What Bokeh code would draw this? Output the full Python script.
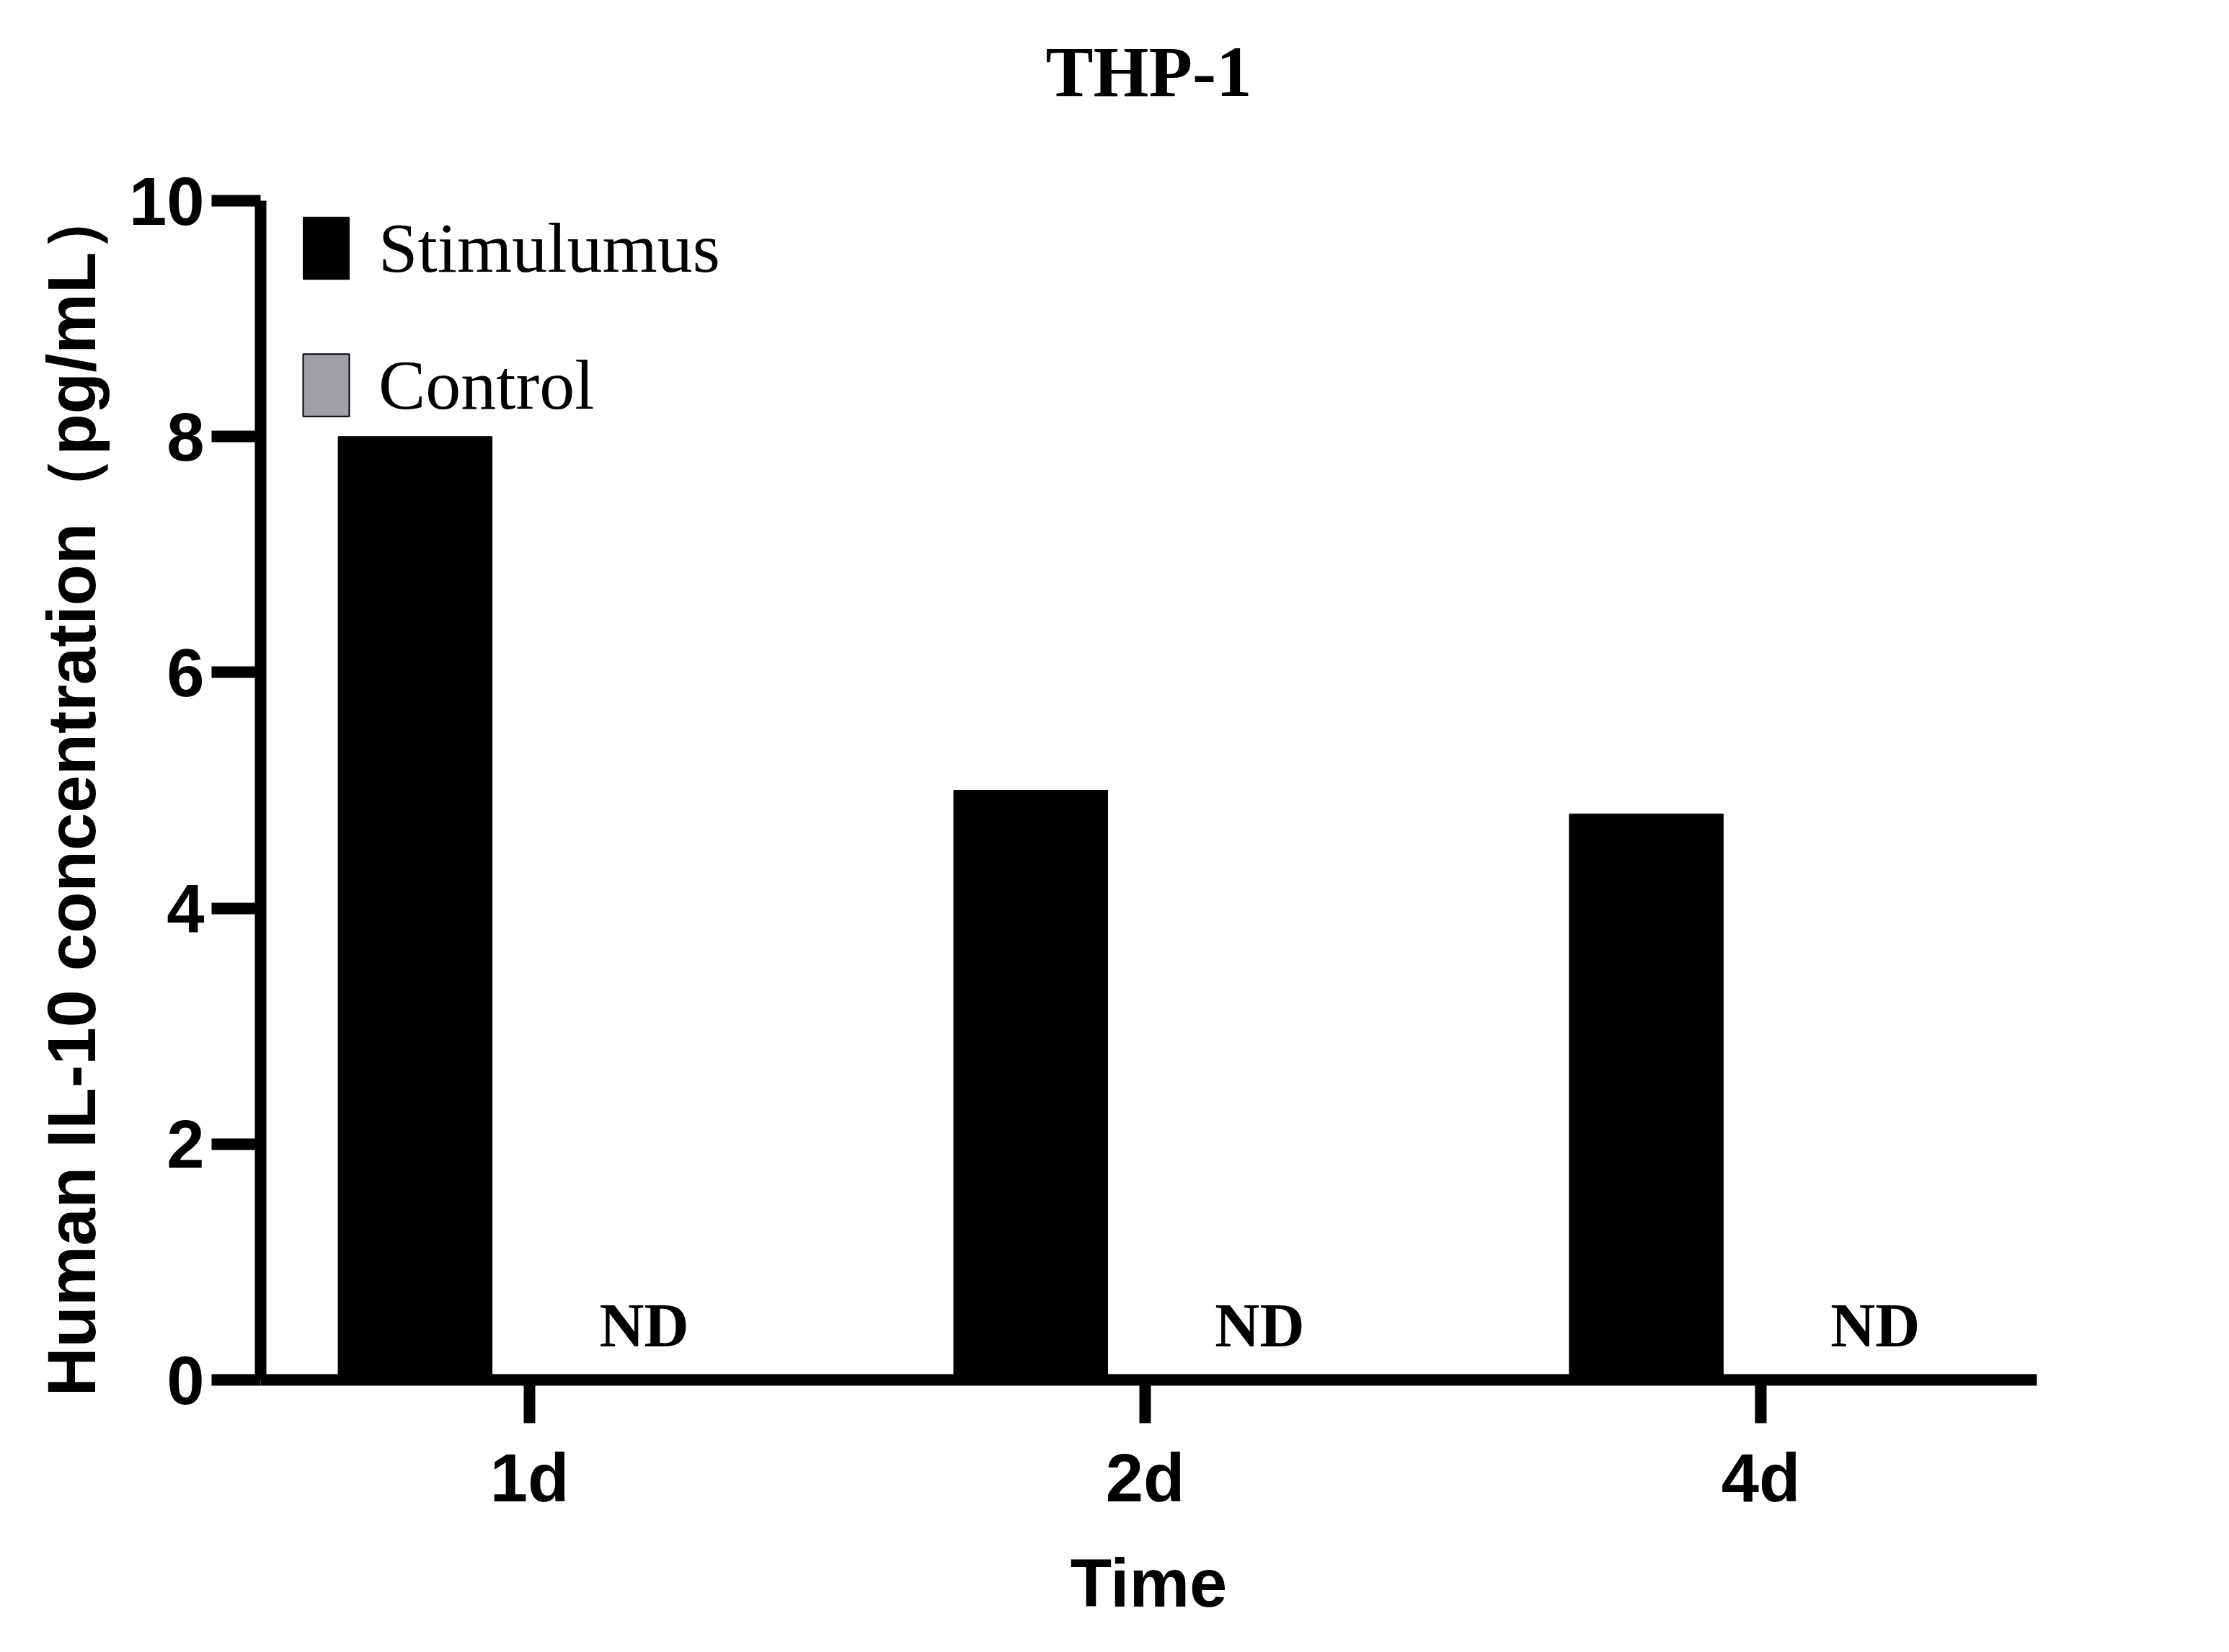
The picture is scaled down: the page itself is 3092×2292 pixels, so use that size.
from bokeh.plotting import figure
from bokeh.models import Range1d, FixedTicker, Legend, LegendItem, ColumnDataSource, Title
from bokeh.embed import file_html
from bokeh.resources import INLINE
from bokeh.core.properties import value

# ---- data ----
title_text = "THP-1"
categories = ["1d", "2d", "4d"]
stimulus = [8.0, 5.0, 4.8]
control = [0.0, 0.0, 0.0]
control_labels = ["ND", "ND", "ND"]
series_names = ["Stimulumus", "Control"]
y_ticks = [0, 2, 4, 6, 8, 10]
x_label = "Time"
y_label = "Human IL-10 concentration（pg/mL）"

# ---- styling / layout ----
SANS = "Liberation Sans"
SERIF = "Liberation Serif"
stim_color = "#000000"
ctrl_color = "#a0a0a4"
dodge_off = 0.186
bar_w = 0.25
nd_height = 0.46

positions = list(range(1, len(categories) + 1))
stim_x = [q - dodge_off for q in positions]
ctrl_x = [q + dodge_off for q in positions]

src_s = ColumnDataSource(dict(x=stim_x, top=stimulus))
src_c = ColumnDataSource(dict(x=ctrl_x, top=control))
src_t = ColumnDataSource(dict(x=ctrl_x, lab=control_labels))

W, H = 3070, 2270
p = figure(width=W, height=H, output_backend="svg", toolbar_location=None,
           x_range=Range1d(0.563, 3.4485), y_range=Range1d(0, 10),
           min_border_left=361, min_border_right=245,
           min_border_top=278, min_border_bottom=356)
p.outline_line_color = None
p.xgrid.visible = False
p.ygrid.visible = False

r_s = p.vbar(x="x", top="top", bottom=0, width=bar_w, source=src_s,
             fill_color=stim_color, line_color="black")
r_c = p.vbar(x="x", top="top", bottom=0, width=bar_w, source=src_c,
             fill_color=ctrl_color, line_color="black", line_width=2)

p.text(x="x", y=nd_height, text="lab", source=src_t,
       text_font=value(SERIF), text_font_style="bold", text_font_size="86px",
       text_align="center", text_baseline="alphabetic")

# main title (kept under 100px: 3-digit sizes broke rendering)
p.title.text = title_text
p.title.text_font = SERIF
p.title.text_font_style = "bold"
p.title.text_font_size = "99px"
p.title.text_color = "black"
p.title.align = "center"
p.title.standoff = 74
# spacer panel between title and plot frame
spacer = Title(text=" ", text_font_size="10px", standoff=75)
p.add_layout(spacer, "above")

for ax in (p.xaxis[0], p.yaxis[0]):
    ax.axis_line_width = 16
    ax.major_tick_line_width = 16
    ax.major_tick_in = 0
    ax.minor_tick_line_color = None
    ax.major_label_text_font = SANS
    ax.major_label_text_font_style = "bold"
    ax.major_label_text_font_size = "94px"
    ax.major_label_text_color = "black"
    ax.axis_label_text_font = SANS
    ax.axis_label_text_font_style = "bold"
    ax.axis_label_text_font_size = "94px"
    ax.axis_label_text_color = "black"

p.xaxis.ticker = FixedTicker(ticks=positions)
p.xaxis.major_label_overrides = {q: c for q, c in zip(positions, categories)}
p.xaxis.major_tick_out = 60
p.xaxis.major_label_standoff = 23
p.xaxis.axis_label = x_label
p.xaxis.axis_label_standoff = 38

p.yaxis.ticker = FixedTicker(ticks=y_ticks)
p.yaxis.major_tick_out = 68
p.yaxis.major_label_standoff = 10
p.yaxis.axis_label = y_label
p.yaxis.axis_label_standoff = 24

legend = Legend(items=[LegendItem(label=series_names[0], renderers=[r_s]),
                       LegendItem(label=series_names[1], renderers=[r_c])],
                location=(51, 1324), glyph_width=80, glyph_height=108,
                label_height=112, label_standoff=33, spacing=78,
                padding=0, margin=0, border_line_color=None,
                background_fill_alpha=0, label_text_font=SERIF,
                label_text_font_size="98px", label_text_color="black")
p.add_layout(legend)

open("out.html", "w").write(file_html(p, INLINE))
